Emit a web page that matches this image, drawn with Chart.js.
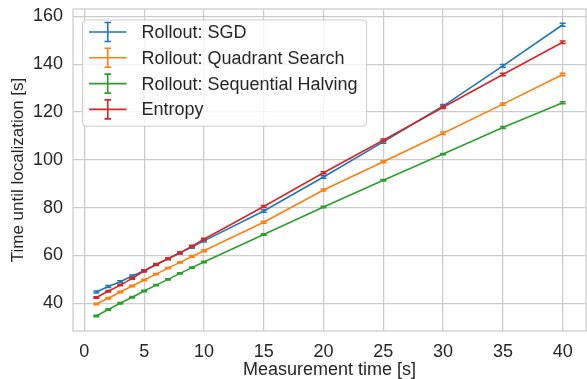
<!DOCTYPE html>
<html>
<head>
<meta charset="utf-8">
<script src="https://cdn.jsdelivr.net/npm/chart.js@4.4.1/dist/chart.umd.min.js"></script>
<style>
  html, body { margin: 0; padding: 0; background: #fff; }
  #wrap { width: 587px; height: 379px; }
</style>
</head>
<body>
<div id="wrap"><canvas id="chart"></canvas></div>
<script>
// Data
const measurementTimes = [1, 2, 3, 4, 5, 6, 7, 8, 9, 10, 15, 20, 25, 30, 35, 40];

const sgdTimes = [44.7, 47.0, 49.0, 51.4, 53.6, 56.2, 58.6, 61.1, 63.5, 66.1, 78.6, 92.8, 107.5, 122.5, 139.3, 156.5];
const quadrantTimes = [39.7, 42.1, 44.7, 47.2, 49.7, 52.2, 54.7, 57.1, 59.6, 62.0, 73.9, 87.4, 99.2, 111.1, 123.3, 135.7];
const halvingTimes = [34.7, 37.4, 40.0, 42.5, 45.1, 47.6, 50.0, 52.5, 54.9, 57.3, 68.8, 80.3, 91.5, 102.4, 113.5, 123.9];
const entropyTimes = [42.4, 45.0, 47.6, 50.4, 53.5, 56.2, 58.6, 61.1, 63.9, 66.8, 80.5, 94.6, 108.2, 122.0, 135.7, 149.2];

const sgdErr = [0.4, 0.4, 0.4, 0.4, 0.4, 0.4, 0.4, 0.5, 0.5, 0.5, 0.5, 0.5, 0.6, 0.6, 0.6, 0.6];
const quadrantErr = [0.3, 0.3, 0.3, 0.3, 0.3, 0.3, 0.3, 0.3, 0.4, 0.4, 0.4, 0.4, 0.4, 0.5, 0.5, 0.5];
const halvingErr = [0.3, 0.3, 0.3, 0.3, 0.3, 0.3, 0.3, 0.3, 0.3, 0.3, 0.3, 0.3, 0.3, 0.3, 0.4, 0.4];
const entropyErr = [0.3, 0.3, 0.3, 0.3, 0.3, 0.3, 0.3, 0.4, 0.4, 0.4, 0.4, 0.4, 0.5, 0.5, 0.5, 0.5];

const xTicks = [0, 5, 10, 15, 20, 25, 30, 35, 40];
const yTicks = [40, 60, 80, 100, 120, 140, 160];

const FONT = "'Liberation Sans', Arial, sans-serif";
const TEXT = "#262626";
const GRID = "#cccccc";

function pairs(ys) {
  return measurementTimes.map((x, i) => ({ x: x, y: ys[i] }));
}

function series(label, ys, errs, color, order) {
  return {
    label: label,
    data: pairs(ys),
    errors: errs,
    borderColor: color,
    backgroundColor: color,
    borderWidth: 1.6,
    pointRadius: 0,
    tension: 0,
    order: order
  };
}

// error bars drawn per dataset, right after its line
const errorBars = {
  id: "errorBars",
  afterDatasetDraw(chart, args) {
    const ds = chart.data.datasets[args.index];
    if (!ds.errors) return;
    const ctx = chart.ctx;
    const y = chart.scales.y;
    ctx.save();
    ctx.strokeStyle = ds.borderColor;
    ctx.lineWidth = 1.5;
    args.meta.data.forEach((pt, i) => {
      const v = ds.data[i].y;
      const lo = y.getPixelForValue(v - ds.errors[i]);
      const hi = y.getPixelForValue(v + ds.errors[i]);
      ctx.beginPath();
      ctx.moveTo(pt.x, lo); ctx.lineTo(pt.x, hi);
      ctx.moveTo(pt.x - 3, lo); ctx.lineTo(pt.x + 3, lo);
      ctx.moveTo(pt.x - 3, hi); ctx.lineTo(pt.x + 3, hi);
      ctx.stroke();
    });
    ctx.restore();
  }
};

// axes frame (all four spines)
const frame = {
  id: "frame",
  beforeDatasetsDraw(chart) {
    const a = chart.chartArea;
    const ctx = chart.ctx;
    ctx.save();
    ctx.strokeStyle = GRID;
    ctx.lineWidth = 1.25;
    ctx.strokeRect(a.left, a.top, a.right - a.left, a.bottom - a.top);
    ctx.restore();
  }
};

// matplotlib-like legend with errorbar handles
const mplLegend = {
  id: "mplLegend",
  afterDraw(chart) {
    const ctx = chart.ctx;
    const a = chart.chartArea;
    const sets = chart.data.datasets;
    const boxX = a.left + 9.5, boxY = a.top + 11;
    const rowH = 25.8, textX = boxX + 59;
    ctx.save();
    ctx.font = "18px " + FONT;
    let maxW = 0;
    sets.forEach(ds => { maxW = Math.max(maxW, ctx.measureText(ds.label).width); });
    const boxW = textX - boxX + maxW + 9;
    const boxH = rowH * sets.length + 3;
    ctx.beginPath();
    ctx.roundRect(boxX, boxY, boxW, boxH, 4);
    ctx.fillStyle = "rgba(255,255,255,0.8)";
    ctx.fill();
    ctx.strokeStyle = GRID;
    ctx.lineWidth = 1;
    ctx.stroke();
    sets.forEach((ds, i) => {
      const cy = boxY + 12 + i * rowH;
      const x0 = boxX + 6.5, x1 = boxX + 44, xm = (x0 + x1) / 2;
      ctx.strokeStyle = ds.borderColor;
      ctx.lineWidth = 1.6;
      ctx.beginPath();
      ctx.moveTo(x0, cy); ctx.lineTo(x1, cy);
      ctx.moveTo(xm, cy - 9.5); ctx.lineTo(xm, cy + 9.5);
      ctx.moveTo(xm - 3.3, cy - 9.5); ctx.lineTo(xm + 3.3, cy - 9.5);
      ctx.moveTo(xm - 3.3, cy + 9.5); ctx.lineTo(xm + 3.3, cy + 9.5);
      ctx.stroke();
      ctx.fillStyle = TEXT;
      ctx.textBaseline = "middle";
      ctx.fillText(ds.label, textX, cy + 1);
    });
    ctx.restore();
  }
};

const ctx = document.getElementById("chart").getContext("2d");

new Chart(ctx, {
  type: "line",
  data: {
    datasets: [
      series("Rollout: SGD", sgdTimes, sgdErr, "#1f77b4", 4),
      series("Rollout: Quadrant Search", quadrantTimes, quadrantErr, "#ff7f0e", 3),
      series("Rollout: Sequential Halving", halvingTimes, halvingErr, "#2ca02c", 2),
      series("Entropy", entropyTimes, entropyErr, "#d62728", 1)
    ]
  },
  options: {
    responsive: true,
    maintainAspectRatio: false,
    animation: false,
    layout: { padding: { top: 9, right: 1, left: 0, bottom: 0 }, autoPadding: false },
    plugins: {
      legend: { display: false },
      tooltip: { enabled: false }
    },
    scales: {
      x: {
        type: "linear",
        min: -0.95,
        max: 41.95,
        afterBuildTicks: s => { s.ticks = xTicks.map(v => ({ value: v })); },
        afterFit: s => { s.height = 48; s.paddingLeft = 0; s.paddingRight = 0; },
        grid: { color: GRID, lineWidth: 1.25, drawTicks: false },
        border: { display: false },
        ticks: { color: TEXT, font: { family: FONT, size: 18 }, padding: 10, maxRotation: 0 },
        title: {
          display: true,
          text: "Measurement time [s]",
          color: TEXT,
          font: { family: FONT, size: 18, lineHeight: 1.0 },
          padding: { top: 0, bottom: 0 }
        }
      },
      y: {
        min: 28.4,
        max: 163.1,
        afterBuildTicks: s => { s.ticks = yTicks.map(v => ({ value: v })); },
        afterFit: s => { s.width = 73; s.paddingTop = 0; s.paddingBottom = 0; },
        grid: { color: GRID, lineWidth: 1.25, drawTicks: false },
        border: { display: false },
        ticks: { color: TEXT, font: { family: FONT, size: 18 }, padding: 10 },
        title: {
          display: true,
          text: "Time until localization [s]",
          color: TEXT,
          font: { family: FONT, size: 17 },
          padding: { top: 8, bottom: 0 }
        }
      }
    }
  },
  plugins: [errorBars, frame, mplLegend]
});
</script>
</body>
</html>
